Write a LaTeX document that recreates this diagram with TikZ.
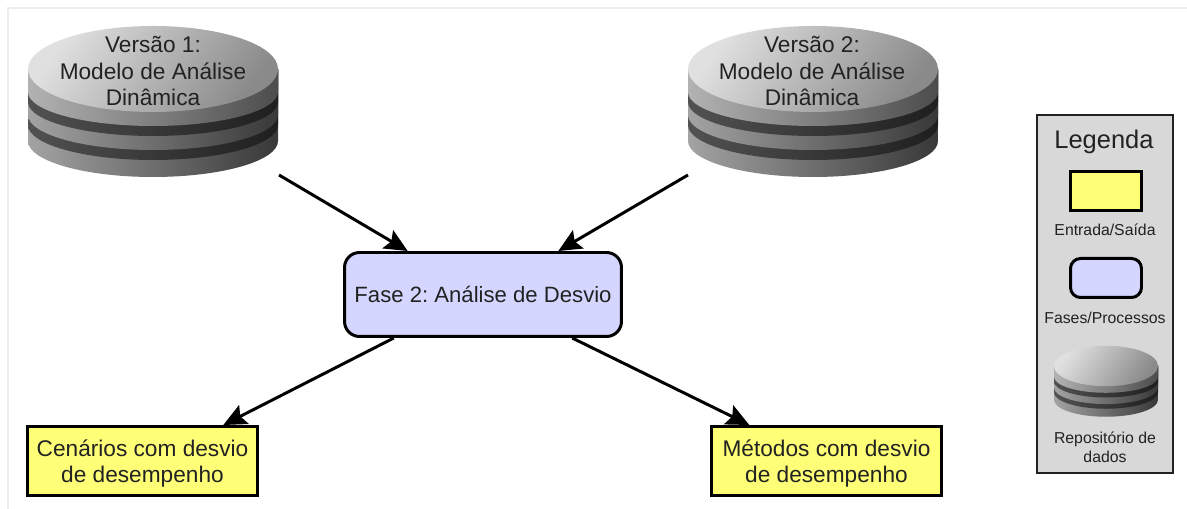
\documentclass[tikz,border=0pt]{standalone}
\usepackage{fontspec}
\setmainfont{Liberation Sans}
\usetikzlibrary{arrows.meta}
\frenchspacing
\definecolor{amarelo}{HTML}{FFFF77}
\definecolor{lilas}{HTML}{D5D6FF}
\definecolor{cinza}{HTML}{D8D8D8}
\definecolor{moldura}{HTML}{EDEDED}
\definecolor{texto}{HTML}{222222}
\tikzset{
  rotulo/.style={text=texto,align=center,font=\fontsize{12.9}{14.9}\selectfont},
  rotulomenor/.style={text=texto,align=center,font=\fontsize{9}{11}\selectfont},
  entrada/.style={rotulo,text depth=0pt,draw=black,line width=1.7pt,fill=amarelo,minimum width=4.6cm,minimum height=1.38cm},
  fase/.style={rotulo,font=\fontsize{12.6}{14.9}\selectfont,draw=black,line width=1.7pt,fill=lilas,rounded corners=0.3cm,minimum width=5.54cm,minimum height=1.68cm},
  seta/.style={line width=1.7pt,-{Stealth[length=0.46cm,width=0.42cm,inset=0.08cm]}},
  faceum/.style={left color=black!12,right color=black!46,shading angle=55},
  ladoum/.style={left color=black!30,right color=black!70},
  ladodois/.style={left color=black!36,right color=black!78},
  escuro/.style={left color=black!68,right color=black!88}
}
% disco: centro x, centro y, escala x, escala y
\newcommand{\repositorio}[4]{
  \begin{scope}[shift={(#1,#2)},xscale=#3,yscale=#4]
    \foreach \yy/\ry/\estilo in {-72/36/ladodois,-56/35/escuro,-46/35/ladodois,-33/34/escuro,-23/34/ladoum} {
      \shade[\estilo] (-125,0) -- (-125,\yy) arc (180:360:125 and \ry) -- (125,0) -- cycle;
    }
    \shade[faceum] (0,0) ellipse (125 and 43);
  \end{scope}
}
\begin{document}
\begin{tikzpicture}[x=0.02cm,y=0.02cm]
\useasboundingbox (0,0) rectangle (1187,509);
\draw[moldura,line width=0.7pt] (8,0) -- (8,501) -- (1187,501);

% repositorios de entrada
\repositorio{153}{440}{1}{1}
\repositorio{813}{440}{1}{1}
\node[rotulo] (versaoum) at (153,438) {Versão 1:\\Modelo de Análise\\Dinâmica};
\node[rotulo] (versaodois) at (812,438) {Versão 2:\\Modelo de Análise\\Dinâmica};
\coordinate (saidaum) at (279,334);
\coordinate (saidadois) at (688,334);

% fase e resultados
\node[fase] (analise) at (483,214.5) {Fase 2: Análise de Desvio};
\node[entrada] (cenarios) at (142.5,48) {Cenários com desvio\\de desempenho};
\node[entrada] (metodos) at (826.5,48) {Métodos com desvio\\de desempenho};

\draw[seta] (saidaum) -- (analise.150);
\draw[seta] (saidadois) -- (analise.30);
\draw[seta] (analise.206) -- (cenarios.24.7);
\draw[seta] (analise.334) -- (metodos.155.6);

% legenda
\node[draw=texto,line width=0.9pt,fill=cinza,minimum width=2.72cm,minimum height=7.16cm] (legenda) at (1105,215) {};
\node[text=texto,font=\fontsize{14.5}{17}\selectfont] (titulo) at (1104,367) {Legenda};
\node[draw=black,line width=1.7pt,fill=amarelo,minimum width=1.42cm,minimum height=0.78cm] (caixaentrada) at (1106,318) {};
\node[rotulomenor] (textoentrada) at (1105,279) {Entrada/Saída};
\node[draw=black,line width=1.7pt,fill=lilas,rounded corners=0.2cm,minimum width=1.42cm,minimum height=0.78cm] (caixafase) at (1106,231) {};
\node[rotulomenor] (textofase) at (1105,191) {Fases/Processos};
\repositorio{1106}{143}{0.416}{0.47}
\node[rotulomenor] (textorepositorio) at (1105,62) {Repositório de\\dados};
\end{tikzpicture}
\end{document}
